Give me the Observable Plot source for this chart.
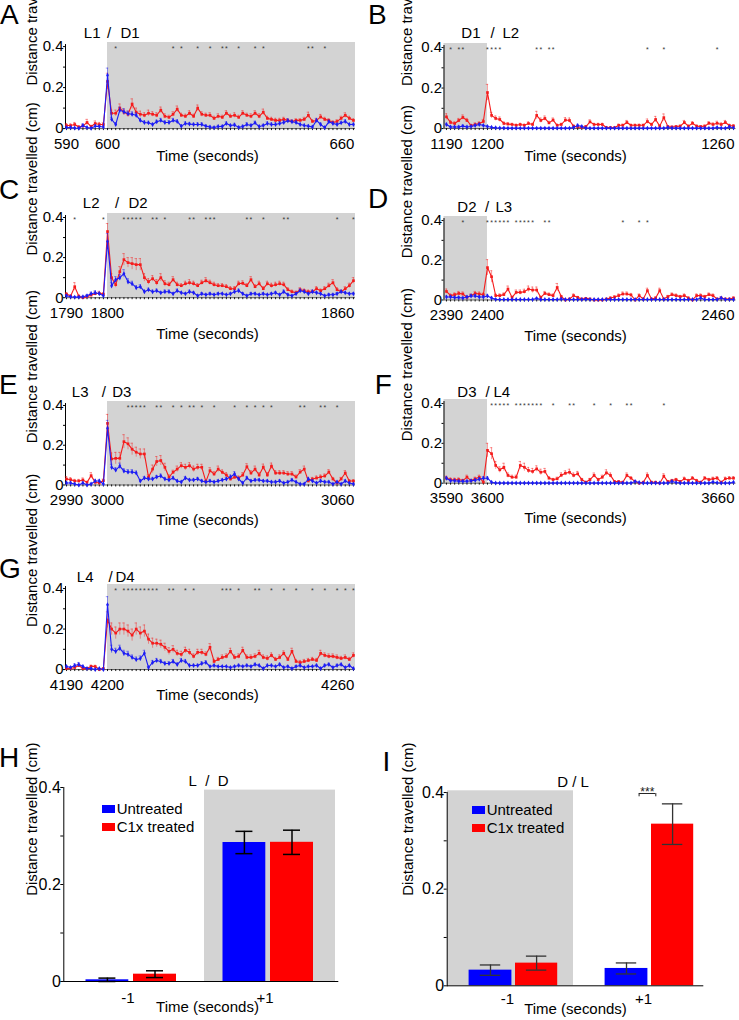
<!DOCTYPE html>
<html>
<head>
<meta charset="utf-8">
<script src="https://cdn.jsdelivr.net/npm/d3@7"></script>
<script src="https://cdn.jsdelivr.net/npm/@observablehq/plot@0.6"></script>
<style>
  html, body { margin:0; padding:0; background:#fff; }
  #fig { position:relative; width:739px; height:1020px; overflow:hidden; font-family:"Liberation Sans", Arial, Helvetica, sans-serif; color:#000; }
  #fig svg { position:absolute; overflow:visible; }
  .letter { position:absolute; font-size:28px; line-height:28px; }
  .sw { position:absolute; width:13px; height:8px; }
  .lg { position:absolute; font-size:15px; line-height:15px; white-space:nowrap; }
</style>
</head>
<body>
<div id="fig"></div>
<script>
// ================= DATA =================
const seriesNames = ["Untreated", "C1x treated"];

// Panel A  (L1 / D1), seconds 590..660
const aStart = 590;
const aPhases = ["L1", "D1"];
const aRed = [0.015,0.015,0.02,0.008,0.012,0.03,0.01,0.025,0.02,0.02,
 0.23,
 0.075,0.075,0.1,0.08,0.07,0.12,0.08,0.07,0.065,0.075,
 0.07,0.065,0.09,0.06,0.055,0.07,0.095,0.065,0.06,0.075,
 0.06,0.1,0.07,0.065,0.065,0.05,0.06,0.055,0.075,0.06,
 0.065,0.055,0.075,0.065,0.06,0.075,0.06,0.08,0.05,0.045,
 0.04,0.04,0.045,0.04,0.035,0.04,0.04,0.045,0.065,0.035,
 0.04,0.057,0.045,0.04,0.03,0.035,0.05,0.065,0.05,0.04];
const aBlue = [0.005,0.005,0.003,0.002,0.015,0.005,0.002,0.012,0.01,0.008,
 0.26,
 0.045,0.02,0.09,0.082,0.073,0.07,0.065,0.04,0.03,0.028,
 0.02,0.033,0.04,0.03,0.03,0.04,0.035,0.012,0.025,0.022,
 0.02,0.02,0.02,0.012,0.008,0.005,0.01,0.01,0.025,0.015,
 0.018,0.006,0.01,0.02,0.015,0.028,0.01,0.015,0.025,0.02,
 0.02,0.025,0.03,0.038,0.033,0.03,0.02,0.015,0.012,0.008,
 0.04,0.02,0.005,0.033,0.025,0.02,0.028,0.035,0.02,0.02];
const aRedErr = [0.01,0.008,0.01,0.006,0.008,0.015,0.006,0.012,0.01,0.01,
 0.04,
 0.015,0.015,0.02,0.015,0.015,0.025,0.02,0.015,0.012,0.015,
 0.012,0.012,0.015,0.012,0.01,0.012,0.015,0.01,0.01,0.012,
 0.01,0.015,0.012,0.01,0.012,0.01,0.012,0.01,0.012,0.01,
 0.012,0.01,0.012,0.01,0.012,0.012,0.012,0.015,0.01,0.01,
 0.01,0.01,0.01,0.008,0.008,0.008,0.008,0.01,0.015,0.008,
 0.008,0.012,0.01,0.008,0.008,0.008,0.01,0.012,0.01,0.008];
const aBlueErr = [0.004,0.004,0.003,0.003,0.008,0.004,0.003,0.006,0.005,0.005,
 0.035,
 0.01,0.008,0.015,0.015,0.012,0.012,0.012,0.01,0.008,0.008,
 0.006,0.008,0.01,0.008,0.008,0.01,0.008,0.006,0.008,0.008,
 0.006,0.008,0.008,0.006,0.005,0.004,0.006,0.006,0.008,0.006,
 0.008,0.005,0.006,0.008,0.006,0.008,0.006,0.006,0.008,0.008,
 0.008,0.008,0.008,0.01,0.008,0.008,0.006,0.006,0.006,0.005,
 0.01,0.008,0.004,0.008,0.008,0.006,0.008,0.008,0.006,0.006];
const aStars = [602,616,618,622,625,628,629,632,636,638,649,650,653];

// Panel B  (D1 / L2), seconds 1190..1260
const bStart = 1190;
const bPhases = ["D1", "L2"];
const bRed = [0.058,0.03,0.025,0.04,0.055,0.04,0.015,0.02,0.025,0.035,
 0.178,
 0.065,0.05,0.045,0.025,0.022,0.02,0.016,0.02,0.016,0.025,
 0.02,0.065,0.04,0.05,0.028,0.042,0.016,0.02,0.042,0.04,
 0.012,0.008,0.005,0.01,0.033,0.02,0.02,0.02,0.005,0.005,
 0.004,0.016,0.016,0.03,0.016,0.016,0.016,0.016,0.035,0.02,
 0.045,0.012,0.054,0.01,0.008,0.01,0.012,0.03,0.012,0.026,
 0.012,0.01,0.012,0.026,0.02,0.026,0.02,0.03,0.015,0.013];
const bBlue = [0.02,0.008,0.008,0.008,0.012,0.008,0.01,0.015,0.02,0.015,
 0.01,
 0.006,0.004,0.003,0.003,0.002,0.002,0.002,0.002,0.002,0.002,
 0.002,0.002,0.002,0.002,0.002,0.002,0.002,0.002,0.002,0.002,
 0.005,0.015,0.01,0.003,0.002,0.002,0.002,0.002,0.002,0.002,
 0.002,0.002,0.002,0.002,0.002,0.002,0.002,0.002,0.002,0.002,
 0.002,0.002,0.002,0.005,0.003,0.002,0.002,0.002,0.002,0.002,
 0.002,0.002,0.002,0.002,0.002,0.005,0.003,0.002,0.008,0.004];
const bRedErr = [0.015,0.01,0.008,0.01,0.012,0.01,0.006,0.008,0.008,0.01,
 0.04,
 0.015,0.012,0.012,0.008,0.008,0.006,0.006,0.006,0.006,0.008,
 0.006,0.02,0.012,0.012,0.008,0.01,0.006,0.006,0.012,0.012,
 0.005,0.004,0.003,0.004,0.01,0.006,0.006,0.006,0.004,0.004,
 0.004,0.006,0.006,0.01,0.006,0.006,0.006,0.006,0.012,0.006,
 0.015,0.005,0.018,0.004,0.004,0.004,0.005,0.01,0.005,0.008,
 0.005,0.004,0.005,0.008,0.008,0.01,0.008,0.01,0.006,0.006];
const bBlueErr = [0.006,0.004,0.004,0.004,0.005,0.004,0.004,0.005,0.006,0.005,
 0.005,
 0.003,0.002,0.002,0.002,0.001,0.001,0.001,0.001,0.001,0.001,
 0.001,0.001,0.001,0.001,0.001,0.001,0.001,0.001,0.001,0.001,
 0.003,0.006,0.004,0.002,0.001,0.001,0.001,0.001,0.001,0.001,
 0.001,0.001,0.001,0.001,0.001,0.001,0.001,0.001,0.001,0.001,
 0.001,0.001,0.001,0.003,0.002,0.001,0.001,0.001,0.001,0.001,
 0.001,0.001,0.001,0.001,0.001,0.003,0.002,0.001,0.004,0.002];
const bStars = [1191,1193,1194,1200,1201,1202,1203,1212,1213,1215,1216,1239,1243,1256];

// Panel C  (L2 / D2), seconds 1790..1860
const cStart = 1790;
const cPhases = ["L2", "D2"];
const cRed = [0.018,0.008,0.055,0.008,0.0,0.005,0.013,0.02,0.022,0.018,
 0.33,
 0.1,0.065,0.13,0.19,0.175,0.17,0.165,0.165,0.1,0.08,
 0.095,0.075,0.1,0.07,0.065,0.09,0.065,0.06,0.07,0.075,
 0.07,0.06,0.075,0.085,0.075,0.065,0.06,0.06,0.055,0.045,
 0.045,0.07,0.072,0.06,0.09,0.055,0.07,0.045,0.07,0.06,
 0.065,0.07,0.065,0.04,0.03,0.025,0.04,0.035,0.03,0.03,
 0.045,0.035,0.045,0.06,0.075,0.04,0.03,0.045,0.06,0.085];
const cBlue = [0.01,0.005,0.003,0.003,0.005,0.01,0.02,0.025,0.02,0.01,
 0.28,
 0.06,0.09,0.1,0.12,0.08,0.07,0.05,0.055,0.03,0.04,
 0.03,0.035,0.025,0.03,0.03,0.02,0.035,0.025,0.02,0.03,
 0.025,0.01,0.02,0.015,0.02,0.015,0.02,0.02,0.015,0.02,
 0.03,0.035,0.02,0.01,0.02,0.02,0.015,0.02,0.015,0.02,
 0.025,0.015,0.03,0.015,0.01,0.02,0.035,0.03,0.02,0.03,
 0.025,0.02,0.01,0.015,0.015,0.02,0.03,0.025,0.02,0.02];
const cRedErr = [0.008,0.005,0.02,0.005,0.003,0.005,0.008,0.01,0.01,0.008,
 0.04,
 0.02,0.015,0.025,0.03,0.025,0.03,0.03,0.03,0.02,0.015,
 0.015,0.015,0.02,0.015,0.012,0.015,0.012,0.01,0.012,0.015,
 0.012,0.01,0.012,0.015,0.012,0.012,0.01,0.01,0.01,0.01,
 0.01,0.012,0.012,0.01,0.015,0.01,0.012,0.01,0.012,0.012,
 0.012,0.012,0.012,0.01,0.008,0.008,0.01,0.008,0.008,0.008,
 0.01,0.008,0.01,0.012,0.015,0.01,0.008,0.01,0.012,0.015];
const cBlueErr = [0.005,0.003,0.002,0.002,0.003,0.005,0.008,0.01,0.008,0.005,
 0.04,
 0.015,0.015,0.015,0.02,0.015,0.012,0.01,0.01,0.008,0.008,
 0.008,0.008,0.006,0.008,0.008,0.006,0.008,0.006,0.006,0.008,
 0.006,0.004,0.006,0.005,0.006,0.005,0.006,0.006,0.005,0.006,
 0.008,0.008,0.006,0.004,0.006,0.006,0.005,0.006,0.005,0.006,
 0.006,0.005,0.008,0.005,0.004,0.006,0.008,0.008,0.006,0.008,
 0.006,0.006,0.004,0.005,0.005,0.006,0.008,0.006,0.006,0.006];
const cStars = [1792,1799,1804,1805,1806,1807,1808,1811,1812,1814,1820,1821,1824,1825,1826,1834,1835,1838,1843,1844,1856,1860];

// Panel D  (D2 / L3), seconds 2390..2460
const dStart = 2390;
const dPhases = ["D2", "L3"];
const dRed = [0.043,0.022,0.027,0.033,0.03,0.013,0.022,0.033,0.03,0.027,
 0.163,
 0.117,0.022,0.022,0.027,0.055,0.013,0.038,0.038,0.042,0.055,
 0.05,0.05,0.013,0.033,0.027,0.022,0.063,0.017,0.0,0.005,
 0.022,0.013,0.005,0.008,0.005,0.0,0.0,0.0,0.005,0.01,
 0.015,0.022,0.03,0.03,0.025,0.0,0.022,0.005,0.047,0.005,
 0.01,0.047,0.005,0.017,0.027,0.022,0.017,0.022,0.01,0.0,
 0.022,0.022,0.017,0.027,0.022,0.005,0.01,0.005,0.005,0.01];
const dBlue = [0.015,0.015,0.012,0.012,0.01,0.015,0.02,0.02,0.015,0.015,
 0.02,
 0.01,0.003,0.002,0.002,0.002,0.002,0.002,0.002,0.002,0.002,
 0.002,0.008,0.002,0.002,0.002,0.002,0.002,0.005,0.002,0.002,
 0.002,0.002,0.002,0.004,0.002,0.002,0.002,0.002,0.002,0.002,
 0.002,0.002,0.002,0.002,0.002,0.002,0.002,0.002,0.002,0.002,
 0.002,0.002,0.002,0.002,0.002,0.002,0.002,0.002,0.002,0.002,
 0.002,0.01,0.002,0.002,0.002,0.002,0.01,0.002,0.002,0.002];
const dRedErr = [0.012,0.008,0.008,0.01,0.01,0.006,0.008,0.01,0.01,0.008,
 0.04,
 0.03,0.008,0.008,0.008,0.015,0.006,0.012,0.012,0.012,0.015,
 0.015,0.015,0.006,0.01,0.008,0.008,0.02,0.006,0.002,0.003,
 0.008,0.005,0.003,0.004,0.003,0.002,0.002,0.002,0.003,0.005,
 0.006,0.008,0.01,0.01,0.008,0.002,0.008,0.003,0.012,0.003,
 0.005,0.012,0.003,0.006,0.008,0.008,0.006,0.008,0.005,0.002,
 0.008,0.008,0.006,0.008,0.008,0.003,0.005,0.003,0.003,0.005];
const dBlueErr = [0.006,0.006,0.005,0.005,0.004,0.006,0.008,0.008,0.006,0.006,
 0.008,
 0.005,0.002,0.001,0.001,0.001,0.001,0.001,0.001,0.001,0.001,
 0.001,0.004,0.001,0.001,0.001,0.001,0.001,0.003,0.001,0.001,
 0.001,0.001,0.001,0.002,0.001,0.001,0.001,0.001,0.001,0.001,
 0.001,0.001,0.001,0.001,0.001,0.001,0.001,0.001,0.001,0.001,
 0.001,0.001,0.001,0.001,0.001,0.001,0.001,0.001,0.001,0.001,
 0.001,0.005,0.001,0.001,0.001,0.001,0.005,0.001,0.001,0.001];
const dStars = [2394,2400,2401,2402,2403,2404,2405,2407,2408,2409,2410,2411,2414,2415,2433,2437,2439];

// Panel E  (L3 / D3), seconds 2990..3060
const eStart = 2990;
const ePhases = ["L3", "D3"];
const eRed = [0.03,0.027,0.02,0.02,0.025,0.013,0.047,0.013,0.01,0.022,
 0.31,
 0.131,0.134,0.134,0.218,0.207,0.18,0.165,0.156,0.156,0.039,
 0.08,0.118,0.123,0.089,0.039,0.064,0.08,0.097,0.089,0.097,
 0.08,0.089,0.089,0.017,0.072,0.055,0.08,0.064,0.05,0.03,
 0.039,0.035,0.05,0.092,0.06,0.08,0.05,0.09,0.05,0.095,
 0.06,0.06,0.06,0.055,0.055,0.04,0.065,0.08,0.02,0.03,
 0.035,0.04,0.045,0.065,0.03,0.01,0.03,0.06,0.02,0.02];
const eBlue = [0.01,0.01,0.005,0.0,0.01,0.0,0.005,0.02,0.02,0.005,
 0.285,
 0.089,0.075,0.095,0.07,0.065,0.065,0.06,0.02,0.035,0.03,
 0.03,0.04,0.045,0.03,0.025,0.035,0.02,0.015,0.035,0.025,
 0.025,0.03,0.02,0.015,0.02,0.015,0.02,0.025,0.03,0.04,
 0.055,0.03,0.01,0.035,0.02,0.025,0.025,0.02,0.02,0.015,
 0.015,0.02,0.01,0.015,0.025,0.015,0.005,0.005,0.03,0.02,
 0.01,0.02,0.015,0.015,0.005,0.015,0.005,0.02,0.01,0.005];
const eRedErr = [0.012,0.01,0.008,0.008,0.01,0.006,0.015,0.006,0.005,0.008,
 0.045,
 0.03,0.03,0.03,0.035,0.03,0.03,0.025,0.025,0.025,0.012,
 0.02,0.025,0.025,0.02,0.012,0.01,0.015,0.015,0.015,0.015,
 0.015,0.015,0.015,0.006,0.015,0.012,0.015,0.012,0.012,0.01,
 0.01,0.01,0.012,0.015,0.012,0.015,0.012,0.015,0.012,0.015,
 0.012,0.012,0.012,0.012,0.012,0.01,0.012,0.015,0.008,0.008,
 0.01,0.01,0.01,0.012,0.008,0.005,0.008,0.012,0.006,0.006];
const eBlueErr = [0.006,0.006,0.004,0.003,0.005,0.003,0.004,0.008,0.008,0.004,
 0.04,
 0.015,0.012,0.015,0.012,0.012,0.012,0.01,0.006,0.008,0.008,
 0.008,0.008,0.01,0.008,0.006,0.008,0.006,0.005,0.008,0.006,
 0.006,0.008,0.006,0.005,0.006,0.005,0.006,0.006,0.008,0.01,
 0.012,0.008,0.004,0.008,0.006,0.006,0.006,0.006,0.006,0.005,
 0.005,0.006,0.004,0.005,0.006,0.005,0.003,0.003,0.008,0.006,
 0.004,0.006,0.005,0.005,0.003,0.005,0.003,0.006,0.004,0.003];
const eStars = [3005,3006,3007,3008,3009,3012,3013,3016,3018,3020,3021,3023,3026,3031,3034,3036,3038,3040,3047,3048,3052,3053,3056];

// Panel F  (D3 / L4), seconds 3590..3660
const fStart = 3590;
const fPhases = ["D3", "L4"];
const fRed = [0.025,0.018,0.017,0.018,0.013,0.03,0.013,0.022,0.03,0.005,
 0.165,
 0.148,0.089,0.067,0.08,0.039,0.03,0.03,0.089,0.08,0.064,
 0.059,0.072,0.055,0.059,0.025,0.018,0.022,0.04,0.05,0.055,
 0.039,0.047,0.018,0.005,0.018,0.039,0.018,0.03,0.052,0.039,
 0.008,0.008,0.005,0.039,0.025,0.008,0.0,0.005,0.039,0.005,
 0.005,0.0,0.035,0.008,0.013,0.018,0.008,0.022,0.013,0.025,
 0.013,0.005,0.025,0.018,0.022,0.025,0.005,0.022,0.025,0.025];
const fBlue = [0.025,0.012,0.012,0.01,0.01,0.01,0.012,0.015,0.02,0.025,
 0.025,
 0.005,0.001,0.001,0.001,0.001,0.001,0.001,0.001,0.001,0.001,
 0.001,0.001,0.001,0.001,0.001,0.001,0.001,0.001,0.001,0.001,
 0.001,0.001,0.001,0.001,0.001,0.001,0.001,0.001,0.001,0.001,
 0.001,0.001,0.001,0.001,0.001,0.008,0.003,0.001,0.001,0.001,
 0.001,0.001,0.001,0.001,0.008,0.003,0.001,0.001,0.001,0.001,
 0.001,0.001,0.001,0.001,0.006,0.002,0.001,0.001,0.001,0.005];
const fRedErr = [0.01,0.008,0.008,0.008,0.006,0.01,0.006,0.008,0.01,0.004,
 0.035,
 0.03,0.02,0.015,0.02,0.012,0.01,0.01,0.02,0.02,0.015,
 0.015,0.015,0.015,0.015,0.008,0.006,0.008,0.012,0.012,0.015,
 0.012,0.012,0.006,0.003,0.006,0.012,0.006,0.01,0.015,0.012,
 0.004,0.004,0.003,0.012,0.008,0.004,0.002,0.003,0.012,0.003,
 0.003,0.002,0.012,0.004,0.006,0.006,0.004,0.008,0.006,0.008,
 0.006,0.003,0.008,0.006,0.008,0.008,0.003,0.008,0.008,0.008];
const fBlueErr = [0.008,0.005,0.005,0.004,0.004,0.004,0.005,0.006,0.008,0.008,
 0.008,
 0.003,0.001,0.001,0.001,0.001,0.001,0.001,0.001,0.001,0.001,
 0.001,0.001,0.001,0.001,0.001,0.001,0.001,0.001,0.001,0.001,
 0.001,0.001,0.001,0.001,0.001,0.001,0.001,0.001,0.001,0.001,
 0.001,0.001,0.001,0.001,0.001,0.004,0.002,0.001,0.001,0.001,
 0.001,0.001,0.001,0.001,0.004,0.002,0.001,0.001,0.001,0.001,
 0.001,0.001,0.001,0.001,0.003,0.001,0.001,0.001,0.001,0.003];
const fStars = [3601,3602,3603,3604,3605,3607,3608,3609,3610,3611,3612,3613,3616,3620,3621,3626,3630,3634,3635,3643];

// Panel G  (L4 / D4), seconds 4190..4260
const gStart = 4190;
const gPhases = ["L4", "D4"];
const gRed = [0.005,0.005,0.01,0.02,0.005,0.005,0.016,0.015,0.0,0.005,
 0.245,
 0.2,0.18,0.2,0.2,0.19,0.17,0.2,0.18,0.19,0.15,
 0.13,0.13,0.125,0.11,0.09,0.1,0.08,0.075,0.095,0.085,
 0.065,0.085,0.085,0.075,0.11,0.04,0.05,0.06,0.065,0.09,
 0.06,0.065,0.095,0.06,0.06,0.065,0.08,0.06,0.055,0.07,
 0.05,0.06,0.08,0.05,0.09,0.04,0.035,0.04,0.045,0.05,
 0.045,0.08,0.07,0.065,0.065,0.06,0.055,0.06,0.05,0.07];
const gBlue = [0.015,0.01,0.02,0.025,0.015,0.005,0.005,0.0,0.005,0.0,
 0.32,
 0.1,0.09,0.105,0.08,0.075,0.06,0.05,0.055,0.08,0.01,
 0.035,0.045,0.04,0.03,0.03,0.04,0.025,0.045,0.04,0.02,
 0.02,0.02,0.03,0.035,0.015,0.02,0.015,0.015,0.015,0.01,
 0.015,0.02,0.015,0.02,0.015,0.025,0.02,0.005,0.02,0.02,
 0.015,0.025,0.01,0.015,0.005,0.015,0.02,0.01,0.015,0.015,
 0.02,0.005,0.02,0.025,0.01,0.02,0.025,0.01,0.02,0.005];
const gRedErr = [0.004,0.004,0.006,0.008,0.004,0.004,0.006,0.006,0.002,0.004,
 0.04,
 0.03,0.03,0.03,0.03,0.03,0.03,0.03,0.03,0.03,0.025,
 0.025,0.02,0.02,0.02,0.018,0.018,0.015,0.015,0.015,0.015,
 0.012,0.015,0.015,0.012,0.018,0.01,0.01,0.012,0.012,0.015,
 0.012,0.012,0.015,0.012,0.012,0.012,0.015,0.012,0.012,0.012,
 0.01,0.012,0.012,0.01,0.015,0.01,0.01,0.01,0.01,0.01,
 0.01,0.015,0.012,0.012,0.012,0.012,0.01,0.012,0.01,0.012];
const gBlueErr = [0.006,0.005,0.008,0.01,0.006,0.003,0.003,0.002,0.003,0.002,
 0.04,
 0.02,0.015,0.015,0.015,0.015,0.012,0.012,0.012,0.015,0.005,
 0.01,0.01,0.01,0.008,0.008,0.01,0.008,0.01,0.01,0.006,
 0.006,0.006,0.008,0.008,0.005,0.006,0.005,0.005,0.005,0.004,
 0.005,0.006,0.005,0.006,0.005,0.006,0.006,0.003,0.006,0.006,
 0.005,0.006,0.004,0.005,0.003,0.005,0.006,0.004,0.005,0.005,
 0.006,0.003,0.006,0.006,0.004,0.006,0.006,0.004,0.006,0.003];
const gStars = [4202,4204,4205,4206,4207,4208,4209,4210,4211,4212,4215,4216,4219,4221,4228,4229,4230,4232,4236,4237,4240,4243,4246,4250,4253,4256,4258,4260];

// Panels H and I (bar charts), time relative to the light switch
const barTimes = ["-1", "+1"];
const hUntreated = [0.0035, 0.2866];
const hUntreatedErr = [0.0035, 0.023];
const hTreated = [0.0151, 0.2870];
const hTreatedErr = [0.007, 0.025];
const iUntreated = [0.0324, 0.0359];
const iUntreatedErr = [0.0107, 0.0114];
const iTreated = [0.0469, 0.3345];
const iTreatedErr = [0.0145, 0.042];

// ================= DRAWING =================
const FONT = '"Liberation Sans", Arial, Helvetica, sans-serif';
const RED = "#f51c1c", BLUE = "#1c1cf5", GRAY = "#d3d3d3";
const BAR_RED = "#ff0000", BAR_BLUE = "#0000ff";
const fig = document.getElementById("fig");

function place(el, left, top) {
  el.style.position = "absolute";
  el.style.left = left + "px";
  el.style.top = top + "px";
  fig.appendChild(el);
}
function addDiv(cls, text, left, top, bg) {
  const d = document.createElement("div");
  d.className = cls;
  if (text) d.textContent = text;
  if (bg) d.style.background = bg;
  place(d, left, top);
}

const series = [
  {letter:"A", start:aStart, phases:aPhases, red:aRed, blue:aBlue, redErr:aRedErr, blueErr:aBlueErr, stars:aStars,
   L:{col:0, y0:128.5, y4:46.5, labY:33, preX:100, slashX:108.5, postX:120, titleDy:27.5, lx:0, ly:1.4}},
  {letter:"B", start:bStart, phases:bPhases, red:bRed, blue:bBlue, redErr:bRedErr, blueErr:bBlueErr, stars:bStars,
   L:{col:1, y0:128.5, y4:47.5, labY:33, preX:480, slashX:492, postX:502, titleDy:27.5, lx:368, ly:1.4}},
  {letter:"C", start:cStart, phases:cPhases, red:cRed, blue:cBlue, redErr:cRedErr, blueErr:cBlueErr, stars:cStars,
   L:{col:0, y0:297.7, y4:217.5, labY:203, preX:99, slashX:116.7, postX:128, titleDy:36, lx:-1, ly:176.4}},
  {letter:"D", start:dStart, phases:dPhases, red:dRed, blue:dBlue, redErr:dRedErr, blueErr:dBlueErr, stars:dStars,
   L:{col:1, y0:299, y4:219.5, labY:206.7, preX:476, slashX:486.7, postX:495, titleDy:36, lx:368, ly:184.6}},
  {letter:"E", start:eStart, phases:ePhases, red:eRed, blue:eBlue, redErr:eRedErr, blueErr:eBlueErr, stars:eStars,
   L:{col:0, y0:484.5, y4:405, labY:391.7, preX:88, slashX:103.3, postX:111.7, titleDy:35.5, lx:-1, ly:370.6}},
  {letter:"F", start:fStart, phases:fPhases, red:fRed, blue:fBlue, redErr:fRedErr, blueErr:fBlueErr, stars:fStars,
   L:{col:1, y0:482.7, y4:403, labY:391.7, preX:476, slashX:487, postX:493, titleDy:35.5, lx:374.7, ly:371.3}},
  {letter:"G", start:gStart, phases:gPhases, red:gRed, blue:gBlue, redErr:gRedErr, blueErr:gBlueErr, stars:gStars,
   L:{col:0, y0:669.3, y4:588.3, labY:576.7, preX:93, slashX:110, postX:115, titleDy:26, lx:-1, ly:555.4}}
];

function seriesPanel(p) {
  const L = p.L, right = L.col === 1;
  const svgLeft = right ? 370 : 0, W = 369;
  const fL = right ? 443.5 : 65, fR = right ? 735.5 : 355;
  const xDom = right ? [p.start - 0.6, p.start + 70.6] : [p.start - 0.25, p.start + 70.5];
  const sw = p.start + 10;
  const top = L.y0 - (L.y0 - L.y4) * 1.05;
  const mt = 50, mb = 50;
  const rows = (vals, errs) => vals.map((v, i) => ({t: p.start + i, v, e: errs[i]}));
  const red = rows(p.red, p.redErr), blue = rows(p.blue, p.blueErr);
  const dataMarks = (data, color, symbol) => [
    Plot.ruleX(data, {x: "t", y1: d => Math.max(0, d.v - d.e), y2: d => d.v + d.e, stroke: color, strokeOpacity: 0.55, strokeWidth: 0.8}),
    Plot.ruleY(data, {x1: "t", x2: "t", y: d => d.v + d.e, insetLeft: -1.2, insetRight: -1.2, stroke: color, strokeOpacity: 0.55, strokeWidth: 0.8}),
    Plot.line(data, {x: "t", y: "v", stroke: color, strokeWidth: 1.1}),
    Plot.dot(data, {x: "t", y: "v", symbol, r: 1.5, fill: color, stroke: "none"})
  ];
  const txt = {text: d => d, fontSize: 15, fill: "#000", lineAnchor: "middle"};
  const svg = Plot.plot({
    width: W,
    height: mt + (L.y0 - top) + mb,
    marginLeft: fL - svgLeft, marginRight: svgLeft + W - fR, marginTop: mt, marginBottom: mb,
    style: {fontFamily: FONT, background: "transparent", overflow: "visible", color: "#000"},
    x: {domain: xDom},
    y: {domain: [0, 0.42]},
    marks: [
      Plot.rect([p.start], {x1: right ? xDom[0] : sw, x2: right ? sw : xDom[1], y1: 0, y2: 0.42, fill: GRAY}),
      Plot.ruleY([0], {stroke: "#333", strokeWidth: 0.8}),
      Plot.ruleX([xDom[0]], {y1: 0, y2: 0.41, stroke: "#000", strokeWidth: 1}),
      Plot.axisX({ticks: d3.range(p.start, p.start + 71), tickSize: 2, tickFormat: () => "", label: null, strokeWidth: 0.9}),
      Plot.axisX({ticks: [p.start, sw], tickSize: 0, tickPadding: 9.5, tickFormat: d3.format("d"), fontSize: 15, label: null}),
      Plot.axisX({ticks: [p.start + 70], tickSize: 0, tickPadding: 9.5, tickFormat: d3.format("d"), fontSize: 15, textAnchor: "end", dx: 1, label: null}),
      Plot.axisY({ticks: [0, 0.1, 0.2, 0.3, 0.4], tickSize: 2, tickFormat: () => "", label: null}),
      Plot.axisY({ticks: [0, 0.2, 0.4], tickSize: 0, tickPadding: 2, tickFormat: v => v === 0 ? "0" : String(v), fontSize: 15, label: null}),
      ...dataMarks(red, RED, "square"),
      ...dataMarks(blue, BLUE, "diamond"),
      Plot.text(p.stars, {x: d => d, y: 0.4, text: () => "*", fontSize: 7, fill: "#333", dy: 1.9, lineAnchor: "middle"}),
      Plot.text([p.phases[0]], {...txt, frameAnchor: "top-left", dx: L.preX - fL, dy: L.labY - top, textAnchor: "end"}),
      Plot.text(["/"], {...txt, frameAnchor: "top-left", dx: L.slashX - fL, dy: L.labY - top, textAnchor: "middle"}),
      Plot.text([p.phases[1]], {...txt, frameAnchor: "top-left", dx: L.postX - fL, dy: L.labY - top, textAnchor: "start"}),
      Plot.text(["Time (seconds)"], {...txt, frameAnchor: "bottom", dx: (right ? 575 : 207) - (fL + fR) / 2, dy: L.titleDy}),
      Plot.text(["Distance travelled (cm)"], {...txt, frameAnchor: "left", rotate: -90, dx: (right ? 407 : 32) - fL})
    ]
  });
  place(svg, svgLeft, top - mt);
  addDiv("letter", p.letter, L.lx, L.ly);
}
series.forEach(seriesPanel);

const bars = [
  {letter:"H", untreated:hUntreated, untreatedErr:hUntreatedErr, treated:hTreated, treatedErr:hTreatedErr, shade:"+1", header:"L\u00a0\u00a0/\u00a0\u00a0D", sig:false,
   L:{svgLeft:0, fL:63.3, fR:338.3, y0:980.7, y4:786.7, range:[66.5, 335], pi:0.0473, uIn:[18.5, 69.7], cIn:[66, 22], cap:8.5,
      errColor:"#000", errW:1.5, shadeTop:0.3946, headX:188, headY:780.7, tickPad:10.6, tickDx:-5, title:[207, 1006.7], ylab:[31.7, 895],
      lx:-1, ly:743.6, legX:101.7, legY:[805, 823.3]}},
  {letter:"I", untreated:iUntreated, untreatedErr:iUntreatedErr, treated:iTreated, treatedErr:iTreatedErr, shade:"-1", header:"D / L", sig:true,
   L:{svgLeft:370, fL:446.7, fR:703.3, y0:985, y4:791.7, range:[446.7, 710], pi:0.074, uIn:[21.6, 61.6], cIn:[68, 15.8], cap:10.5,
      errColor:"#333", errW:1.3, shadeTop:0.4035, headX:556.7, headY:781.7, tickPad:7.6, tickDx:-3, title:[575, 1008], ylab:[408, 895],
      lx:382.4, ly:748, legX:471.7, legY:[806, 824]}}
];

function barPanel(p) {
  const L = p.L, W = 369, mt = 50, mb = 50;
  const range = L.range.map(v => v - L.svgLeft);
  const step = (range[1] - range[0]) / (barTimes.length - L.pi);
  const bw = step * (1 - L.pi);
  const rows = (vals, errs) => barTimes.map((t, i) => ({time: t, v: vals[i], e: errs[i]}));
  const U = rows(p.untreated, p.untreatedErr), C = rows(p.treated, p.treatedErr);
  const group = (data, color, [inL, inR]) => {
    const c = inL + (bw - inL - inR) / 2;
    const capStyle = {x: "time", insetLeft: c - L.cap, insetRight: bw - c - L.cap, stroke: L.errColor, strokeWidth: L.errW};
    return [
      Plot.barY(data, {x: "time", y: "v", fill: color, insetLeft: inL, insetRight: inR}),
      Plot.ruleX(data, {x: "time", y1: d => Math.max(0, d.v - d.e), y2: d => d.v + d.e, dx: c - bw / 2, stroke: L.errColor, strokeWidth: L.errW}),
      Plot.tickY(data, {...capStyle, y: d => d.v + d.e}),
      Plot.tickY(data, {...capStyle, y: d => Math.max(0, d.v - d.e)})
    ];
  };
  const txt = {text: d => d, fontSize: 15, fill: "#000", lineAnchor: "middle"};
  const marks = [
    Plot.barY([p.shade], {x: d => d, y1: 0, y2: L.shadeTop, fill: GRAY}),
    ...group(U, BAR_BLUE, L.uIn),
    ...group(C, BAR_RED, L.cIn),
    Plot.ruleY([0], {stroke: "#000", strokeWidth: 1}),
    Plot.frame({anchor: "left", stroke: "#000", strokeWidth: 1}),
    Plot.axisY({ticks: [0, 0.1, 0.2, 0.3, 0.4], tickSize: 3, tickFormat: () => "", label: null}),
    Plot.axisY({ticks: [0, 0.2, 0.4], tickSize: 0, tickPadding: 3, tickFormat: v => v === 0 ? "0" : String(v), fontSize: 16, label: null}),
    Plot.axisX({tickSize: 0, tickPadding: L.tickPad, dx: L.tickDx, fontSize: 15, label: null}),
    Plot.text([p.header], {...txt, frameAnchor: "top-left", dx: L.headX - L.fL, dy: L.headY - L.y4, textAnchor: "start"}),
    Plot.text(["Time (seconds)"], {...txt, frameAnchor: "bottom", dx: L.title[0] - (L.fL + L.fR) / 2, dy: L.title[1] - L.y0}),
    Plot.text(["Distance travelled (cm)"], {...txt, frameAnchor: "left", rotate: -90, dx: L.ylab[0] - L.fL, dy: L.ylab[1] - (L.y0 + L.y4) / 2})
  ];
  if (p.sig) {
    const bc = bw / 2;
    marks.push(
      Plot.text(["***"], {x: () => "+1", frameAnchor: "top", lineAnchor: "middle", text: d => d, fontSize: 12, fill: "#222", dx: 0.8, dy: -0.5}),
      Plot.tickY([0.4], {x: () => "+1", y: d => d, insetLeft: bc - 7.4, insetRight: bc - 9.3, dy: 1, stroke: "#222", strokeWidth: 1}),
      Plot.ruleX(["+1"], {x: d => d, y1: 0.4, y2: 0.4, insetTop: 4.3, insetBottom: -1, dx: -7.4, stroke: "#222", strokeWidth: 1}),
      Plot.ruleX(["+1"], {x: d => d, y1: 0.4, y2: 0.4, insetTop: 4.3, insetBottom: -1, dx: 9.3, stroke: "#222", strokeWidth: 1})
    );
  }
  const svg = Plot.plot({
    width: W,
    height: mt + (L.y0 - L.y4) + mb,
    marginLeft: L.fL - L.svgLeft, marginRight: L.svgLeft + W - L.fR, marginTop: mt, marginBottom: mb,
    style: {fontFamily: FONT, background: "transparent", overflow: "visible", color: "#000"},
    x: {domain: barTimes, range, paddingInner: L.pi, paddingOuter: 0},
    y: {domain: [0, 0.4]},
    marks
  });
  place(svg, L.svgLeft, L.y4 - mt);
  addDiv("letter", p.letter, L.lx, L.ly);
  // legend
  addDiv("sw", "", L.legX, L.legY[0], BAR_BLUE);
  addDiv("sw", "", L.legX, L.legY[1], BAR_RED);
  addDiv("lg", seriesNames[0], L.legX + 15, L.legY[0] - 4.2);
  addDiv("lg", seriesNames[1], L.legX + 15, L.legY[1] - 4.2);
}
bars.forEach(barPanel);
</script>
</body>
</html>
